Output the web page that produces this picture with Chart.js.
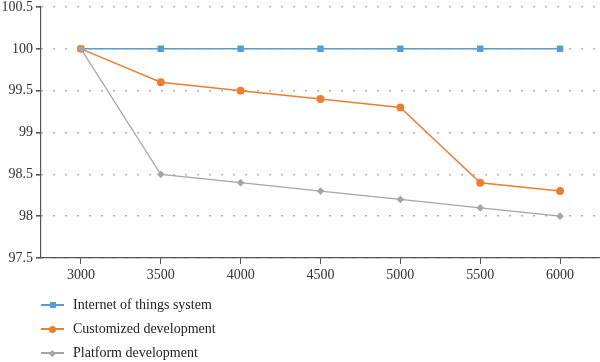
<!DOCTYPE html>
<html>
<head>
<meta charset="utf-8">
<script src="https://cdn.jsdelivr.net/npm/chart.js@4"></script>
<style>
  html, body { margin: 0; padding: 0; background: #fff; }
  #wrap { position: relative; width: 600px; height: 362px; }
  #legend { position: absolute; left: 41px; top: 293px; font-family: "Liberation Serif", serif; font-size: 14px; color: #222; }
  .item { height: 24px; display: flex; align-items: center; }
  .swatch { position: relative; width: 23px; height: 12px; margin-right: 9px; }
  .swatch .ln { position: absolute; left: 0; right: 0; top: 5px; height: 1.5px; }
  .swatch .mk { position: absolute; }
</style>
</head>
<body>
<div id="wrap">
  <canvas id="myChart" width="600" height="362"></canvas>
  <div id="legend"></div>
</div>
<script>
const labels = ["3000", "3500", "4000", "4500", "5000", "5500", "6000"];
const iotValues = [100, 100, 100, 100, 100, 100, 100];
const customValues = [100, 99.6, 99.5, 99.4, 99.3, 98.4, 98.3];
const platformValues = [100, 98.5, 98.4, 98.3, 98.2, 98.1, 98.0];
const seriesNames = ["Internet of things system", "Customized development", "Platform development"];
const colors = ["#5b9bd5", "#ed7d31", "#a5a5a5"];

const font = { family: "Liberation Serif", size: 14 };

const datasets = [
  { label: seriesNames[0], data: iotValues, borderColor: colors[0], backgroundColor: colors[0],
    pointStyle: "rect", pointRadius: 3.5, borderWidth: 1.5, order: 2 },
  { label: seriesNames[1], data: customValues, borderColor: colors[1], backgroundColor: colors[1],
    pointStyle: "circle", pointRadius: 3.2, borderWidth: 1.5, order: 1 },
  { label: seriesNames[2], data: platformValues, borderColor: colors[2], backgroundColor: colors[2],
    pointStyle: "rectRot", pointRadius: 3, borderWidth: 1.2, order: 0 }
];

const ctx = document.getElementById("myChart").getContext("2d");
const chart = new Chart(ctx, {
  type: "line",
  data: { labels: labels, datasets: datasets },
  options: {
    responsive: false,
    animation: false,
    layout: { autoPadding: false, padding: { top: 7, right: 0, bottom: 76, left: 0 } },
    plugins: { legend: { display: false }, tooltip: { enabled: false } },
    elements: { line: { tension: 0 }, point: { borderWidth: 0 } },
    scales: {
      x: {
        offset: true,
        grid: { drawOnChartArea: false, offset: false, tickLength: 6, tickColor: "#555" },
        border: { color: "#555", width: 1.2 },
        ticks: { font: font, color: "#333", padding: 3 },
        afterFit: s => { s.height = 28; s.paddingLeft = 0; s.paddingRight = 0; }
      },
      y: {
        min: 97.5,
        max: 100.5,
        grid: { color: "#a8a8a8", lineWidth: 1.6, tickLength: 5, tickColor: "#555", tickBorderDash: [] },
        border: { color: "#555", width: 1.2, dash: [1.8, 10.2] },
        ticks: { stepSize: 0.5, font: font, color: "#333", padding: 3,
          callback: v => String(Math.round(v * 10) / 10) },
        afterFit: s => { s.width = 41; s.paddingTop = 0; s.paddingBottom = 0; }
      }
    }
  }
});

// HTML legend, one row per series
const legend = document.getElementById("legend");
const markerCss = [
  "width:6px;height:6px;left:8.5px;top:3px;",
  "width:7px;height:7px;left:8px;top:2.5px;border-radius:50%;",
  "width:4.5px;height:4.5px;left:9px;top:3.5px;transform:rotate(45deg);"
];
seriesNames.forEach((name, i) => {
  const row = document.createElement("div");
  row.className = "item";
  row.innerHTML = '<div class="swatch"><div class="ln" style="background:' + colors[i] + '"></div>' +
    '<div class="mk" style="background:' + colors[i] + ';' + markerCss[i] + '"></div></div>' +
    '<span>' + name + '</span>';
  legend.appendChild(row);
});
</script>
</body>
</html>
